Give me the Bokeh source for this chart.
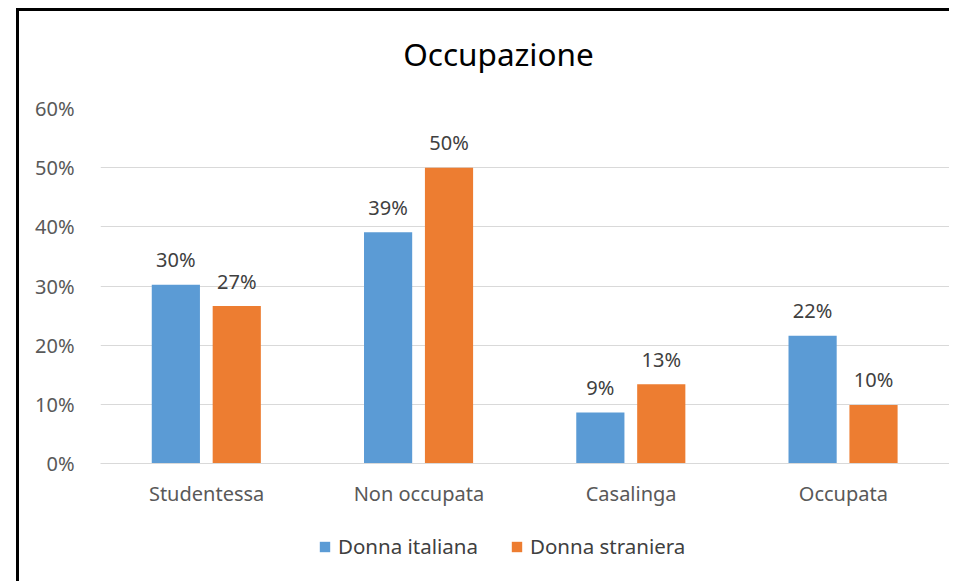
from bokeh.plotting import figure
from bokeh.layouts import column
from bokeh.models import (FactorRange, ColumnDataSource, Legend, LegendItem, Label,
                          NumeralTickFormatter, FixedTicker, Range1d)
from bokeh.transform import dodge
from bokeh.core.properties import value
from bokeh.embed import file_html
from bokeh.resources import INLINE

title_text = "Occupazione"
categories = ["Studentessa", "Non occupata", "Casalinga", "Occupata"]
italiana = [0.302, 0.391, 0.086, 0.216]
straniera = [0.266, 0.500, 0.134, 0.099]
series_names = ["Donna italiana", "Donna straniera"]
y_ticks = [0, 0.1, 0.2, 0.3, 0.4, 0.5, 0.6]

FONT = "Noto Sans"
BLUE = "#5B9BD5"
ORANGE = "#ED7D31"

src = ColumnDataSource(dict(
    cat=categories,
    ita=italiana,
    stra=straniera,
    ita_lbl=[f"{round(v*100):.0f}%" for v in italiana],
    stra_lbl=[f"{round(v*100):.0f}%" for v in straniera],
))

# title strip
p0 = figure(x_range=Range1d(0, 1), y_range=Range1d(0, 1), frame_width=930, frame_height=70,
            output_backend="svg", toolbar_location=None, min_border=0,
            x_axis_location=None, y_axis_location=None)
p0.outline_line_color = None
p0.grid.visible = False
p0.add_layout(Label(x=398, y=28, x_units="screen", y_units="screen", text=title_text,
                    text_align="center", text_baseline="middle", text_font=FONT,
                    text_font_size="31.5px", text_color="#000000"))

p = figure(x_range=FactorRange(*categories, range_padding=0), y_range=(0, 0.6),
           frame_width=849, frame_height=355, output_backend="svg", toolbar_location=None,
           min_border_left=81, min_border_top=27, min_border_bottom=50, min_border_right=0)
p.outline_line_color = None

p.vbar(x=dodge("cat", -0.145, range=p.x_range), top="ita", width=0.227, source=src,
       fill_color=BLUE, line_color=None)
p.vbar(x=dodge("cat", 0.142, range=p.x_range), top="stra", width=0.227, source=src,
       fill_color=ORANGE, line_color=None)

p.text(x=dodge("cat", -0.145, range=p.x_range), y="ita", text="ita_lbl", source=src,
       text_align="center", text_baseline="middle", y_offset=-25,
       text_font=value(FONT), text_font_size="20px", text_color="#404040")
p.text(x=dodge("cat", 0.142, range=p.x_range), y="stra", text="stra_lbl", source=src,
       text_align="center", text_baseline="middle", y_offset=-25,
       text_font=value(FONT), text_font_size="20px", text_color="#404040")

p.yaxis.ticker = FixedTicker(ticks=y_ticks)
p.yaxis.formatter = NumeralTickFormatter(format="0%")
for ax in (p.xaxis, p.yaxis):
    ax.major_tick_line_color = None
    ax.minor_tick_line_color = None
    ax.major_label_text_font = FONT
    ax.major_label_text_font_size = "20px"
    ax.major_label_text_color = "#595959"
p.yaxis.axis_line_color = None
p.xaxis.axis_line_color = "#D9D9D9"
p.yaxis.major_label_standoff = 20
p.xaxis.major_label_standoff = 10
p.xgrid.grid_line_color = None
p.ygrid.grid_line_color = "#D9D9D9"
p.ygrid.grid_line_width = 1

# legend strip below the chart (swatch renderers sit outside the visible range)
p2 = figure(x_range=Range1d(0, 1), y_range=Range1d(0, 1), frame_width=930, frame_height=68,
            output_backend="svg", toolbar_location=None, min_border=0,
            x_axis_location=None, y_axis_location=None)
p2.outline_line_color = None
p2.grid.visible = False
g1 = p2.vbar(x=[5], top=[5], bottom=[4], width=0.1, fill_color=BLUE, line_color=None)
g2 = p2.vbar(x=[5], top=[5], bottom=[4], width=0.1, fill_color=ORANGE, line_color=None)
legend = Legend(items=[LegendItem(label=series_names[0], renderers=[g1]),
                       LegendItem(label=series_names[1], renderers=[g2])],
                orientation="horizontal", location=(299, 21),
                label_text_font=FONT, label_text_font_size="20.5px", label_text_color="#404040",
                glyph_width=13, glyph_height=13, spacing=32, label_standoff=7,
                background_fill_alpha=0, border_line_color=None, padding=2, margin=0)
p2.add_layout(legend, "center")

layout = column(p0, p, p2, spacing=0, margin=(8, 0, 0, 16),
                styles={"border-left": "3px solid black", "border-top": "3px solid black"})

open("out.html", "w").write(file_html(layout, INLINE))
